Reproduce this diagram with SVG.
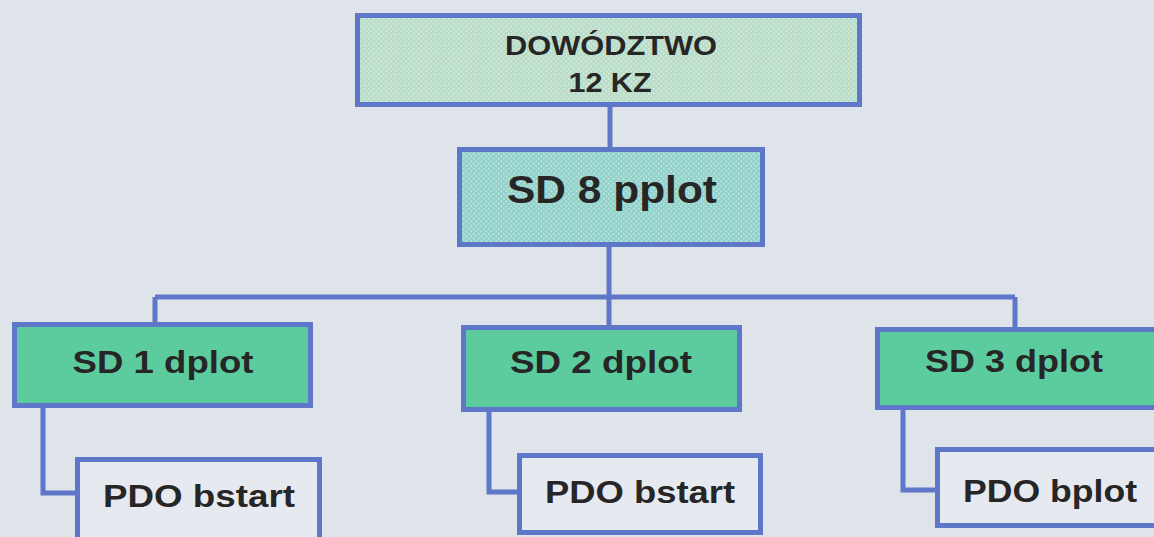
<svg xmlns="http://www.w3.org/2000/svg" width="1154" height="537" viewBox="0 0 1154 537">
<style>
.box{stroke:#5f77c9;stroke-width:5}
.conn{fill:none;stroke:#5f77c9;stroke-width:5;stroke-linejoin:miter}
text{font-family:"Liberation Sans",Arial,sans-serif;font-weight:bold;fill:#262626;text-anchor:middle}
</style>
<defs>
<pattern id="dotsA" width="5" height="5" patternUnits="userSpaceOnUse">
<rect width="5" height="5" fill="#b9dcc8"/>
<circle cx="1.25" cy="1.25" r="0.9" fill="#d8eee2"/>
<circle cx="3.75" cy="3.75" r="0.9" fill="#d8eee2"/>
</pattern>
<pattern id="dotsB" width="5" height="5" patternUnits="userSpaceOnUse">
<rect width="5" height="5" fill="#93d2cb"/>
<circle cx="1.25" cy="1.25" r="0.9" fill="#c2e6e2"/>
<circle cx="3.75" cy="3.75" r="0.9" fill="#c2e6e2"/>
</pattern>
</defs>
<rect width="1154" height="537" fill="#dfe3ea"/>
<g id="connectors">
<path class="conn" d="M610 107V147"/>
<path class="conn" d="M609 247V325"/>
<path class="conn" d="M155 297H1015"/>
<path class="conn" d="M155 297V322"/>
<path class="conn" d="M1015 297V327"/>
<path class="conn" d="M43 408V493H77"/>
<path class="conn" d="M489 412V492H519"/>
<path class="conn" d="M903 410V490H937"/>
</g>
<g id="node-dowodztwo">
<rect class="box" x="357.5" y="15.5" width="502" height="89" fill="url(#dotsA)"/>
<text x="611" y="55" font-size="28" textLength="212" lengthAdjust="spacingAndGlyphs">DOWÓDZTWO</text>
<text x="610" y="92" font-size="28" textLength="83" lengthAdjust="spacingAndGlyphs">12 KZ</text>
</g>
<g id="node-sd8">
<rect class="box" x="459.5" y="149.5" width="303" height="95" fill="url(#dotsB)"/>
<text x="612" y="203" font-size="38" textLength="210" lengthAdjust="spacingAndGlyphs">SD 8 pplot</text>
</g>
<g id="node-sd1">
<rect class="box" x="14.5" y="324.5" width="296" height="81" fill="#5ccc9f"/>
<text x="163" y="373" font-size="32" textLength="181" lengthAdjust="spacingAndGlyphs">SD 1 dplot</text>
</g>
<g id="node-sd2">
<rect class="box" x="463.5" y="327.5" width="276" height="82" fill="#5ccc9f"/>
<text x="601" y="373" font-size="32" textLength="182" lengthAdjust="spacingAndGlyphs">SD 2 dplot</text>
</g>
<g id="node-sd3">
<rect class="box" x="877.5" y="329.5" width="290" height="78" fill="#5ccc9f"/>
<text x="1014" y="372" font-size="32" textLength="178" lengthAdjust="spacingAndGlyphs">SD 3 dplot</text>
</g>
<g id="node-pdo1">
<rect class="box" x="77.5" y="459.5" width="242" height="100" fill="#e6e9ef"/>
<text x="199" y="507" font-size="32" textLength="192" lengthAdjust="spacingAndGlyphs">PDO bstart</text>
</g>
<g id="node-pdo2">
<rect class="box" x="519.5" y="455.5" width="241" height="77" fill="#e6e9ef"/>
<text x="640" y="503" font-size="32" textLength="190" lengthAdjust="spacingAndGlyphs">PDO bstart</text>
</g>
<g id="node-pdo3">
<rect class="box" x="937.5" y="449.5" width="240" height="76" fill="#e6e9ef"/>
<text x="1050" y="502" font-size="32" textLength="174" lengthAdjust="spacingAndGlyphs">PDO bplot</text>
</g>
</svg>
